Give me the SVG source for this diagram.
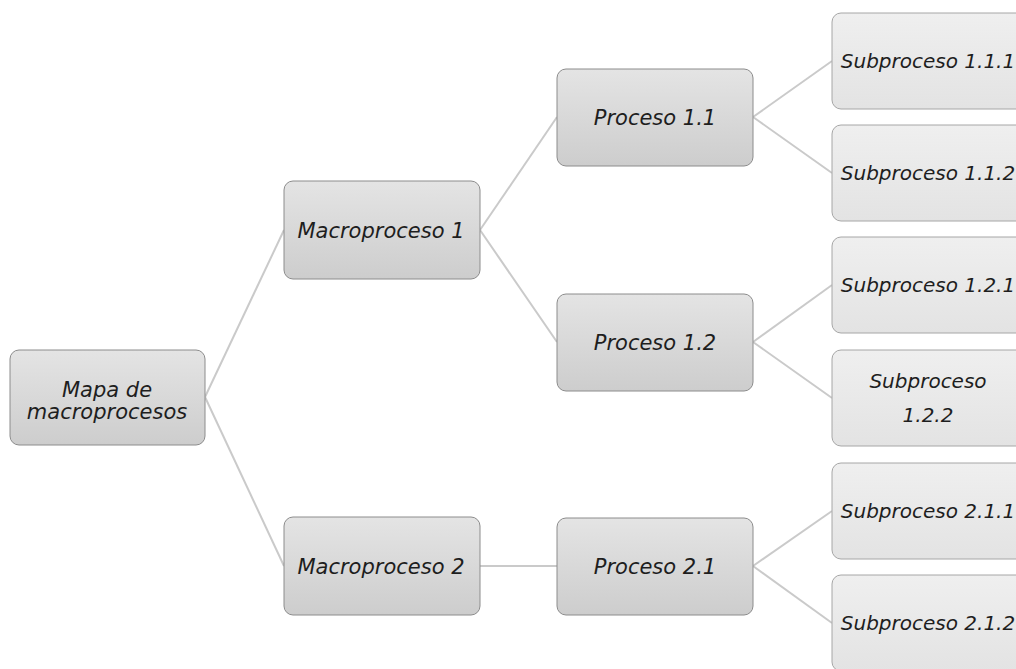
<svg xmlns="http://www.w3.org/2000/svg" width="1016" height="669" viewBox="0 0 1016 669">
<defs>
<linearGradient id="g1" x1="0" y1="0" x2="0" y2="1">
<stop offset="0" stop-color="#e4e4e4"/>
<stop offset="1" stop-color="#cdcdcd"/>
</linearGradient>
<linearGradient id="g2" x1="0" y1="0" x2="0" y2="1">
<stop offset="0" stop-color="#efefef"/>
<stop offset="1" stop-color="#e3e3e3"/>
</linearGradient>
</defs>
<style>
.n{fill:url(#g1);stroke:#8c8c8c;stroke-width:1}
.s{fill:url(#g2);stroke:#a6a6a6;stroke-width:1}
.t{font-family:"DejaVu Sans",sans-serif;font-style:italic;font-size:21px;fill:#1e1e1e;text-anchor:middle}
.ts{font-size:20px}
.c{stroke:#cacaca;stroke-width:2;fill:none}
</style>
<rect width="1016" height="669" fill="#ffffff"/>
<g id="connectors">
<line class="c" x1="205" y1="397" x2="284" y2="230"/>
<line class="c" x1="205" y1="397" x2="284" y2="566"/>
<line class="c" x1="480" y1="230" x2="557" y2="117"/>
<line class="c" x1="480" y1="230" x2="557" y2="342"/>
<line class="c" x1="480" y1="566" x2="557" y2="566"/>
<line class="c" x1="753" y1="117" x2="832" y2="61"/>
<line class="c" x1="753" y1="117" x2="832" y2="173"/>
<line class="c" x1="753" y1="342" x2="832" y2="285"/>
<line class="c" x1="753" y1="342" x2="832" y2="398"/>
<line class="c" x1="753" y1="566" x2="832" y2="511"/>
<line class="c" x1="753" y1="566" x2="832" y2="623"/>
</g>
<g id="root">
<rect class="n" x="10" y="350" width="195" height="95" rx="9"/>
<text class="t" x="107" y="397">Mapa de</text>
<text class="t" x="107" y="419">macroprocesos</text>
</g>
<g id="macro1">
<rect class="n" x="284" y="181" width="196" height="98" rx="9"/>
<text class="t" x="381" y="238">Macroproceso 1</text>
</g>
<g id="macro2">
<rect class="n" x="284" y="517" width="196" height="98" rx="9"/>
<text class="t" x="381" y="574">Macroproceso 2</text>
</g>
<g id="proc11">
<rect class="n" x="557" y="69" width="196" height="97" rx="9"/>
<text class="t" x="655" y="125">Proceso 1.1</text>
</g>
<g id="proc12">
<rect class="n" x="557" y="294" width="196" height="97" rx="9"/>
<text class="t" x="655" y="350">Proceso 1.2</text>
</g>
<g id="proc21">
<rect class="n" x="557" y="518" width="196" height="97" rx="9"/>
<text class="t" x="655" y="574">Proceso 2.1</text>
</g>
<g id="sub111">
<rect class="s" x="832" y="13" width="196" height="96" rx="9"/>
<text class="t ts" x="928" y="68">Subproceso 1.1.1</text>
</g>
<g id="sub112">
<rect class="s" x="832" y="125" width="196" height="96" rx="9"/>
<text class="t ts" x="928" y="180">Subproceso 1.1.2</text>
</g>
<g id="sub121">
<rect class="s" x="832" y="237" width="196" height="96" rx="9"/>
<text class="t ts" x="928" y="292">Subproceso 1.2.1</text>
</g>
<g id="sub122">
<rect class="s" x="832" y="350" width="196" height="96" rx="9"/>
<text class="t ts" x="928" y="388">Subproceso</text>
<text class="t ts" x="928" y="422">1.2.2</text>
</g>
<g id="sub211">
<rect class="s" x="832" y="463" width="196" height="96" rx="9"/>
<text class="t ts" x="928" y="518">Subproceso 2.1.1</text>
</g>
<g id="sub212">
<rect class="s" x="832" y="575" width="196" height="96" rx="9"/>
<text class="t ts" x="928" y="630">Subproceso 2.1.2</text>
</g>
</svg>
